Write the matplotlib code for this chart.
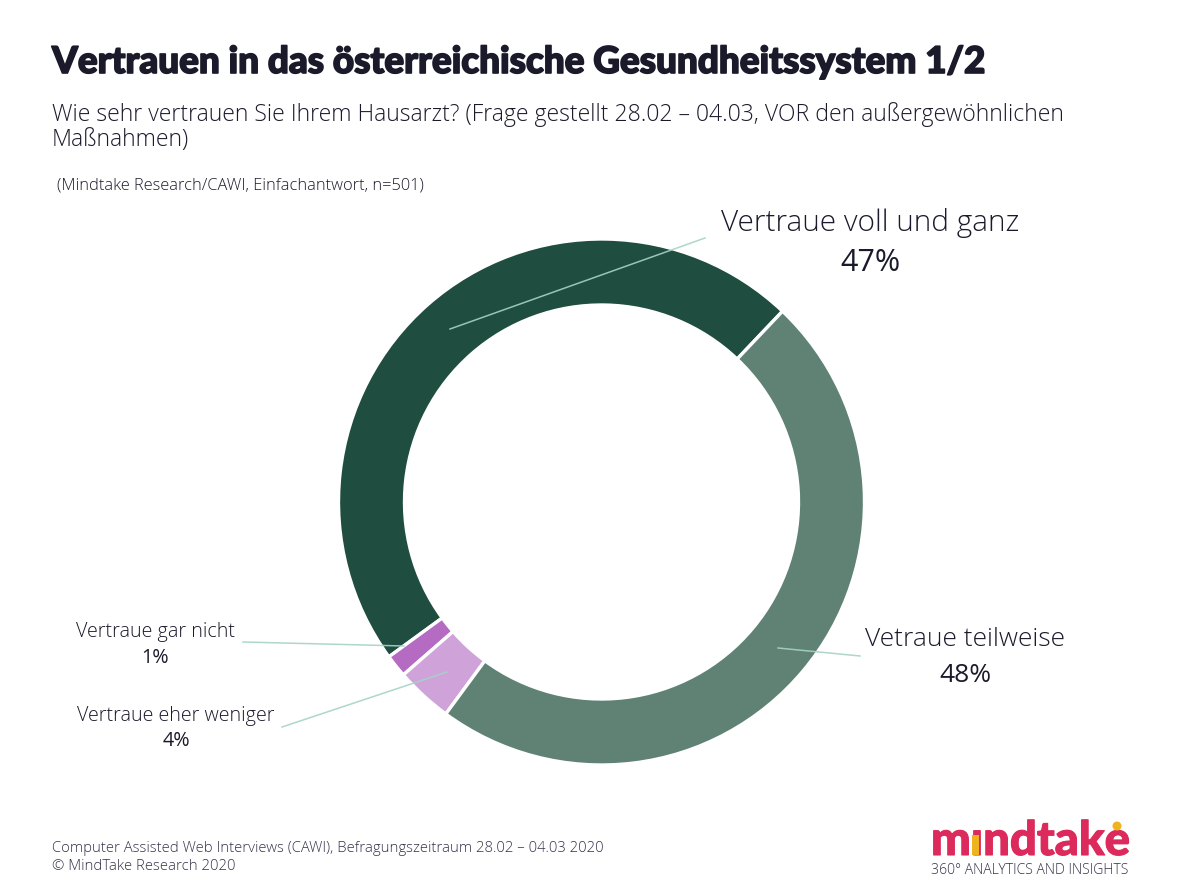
import matplotlib
matplotlib.use("Agg")
import matplotlib.pyplot as plt
import matplotlib.patheffects as pe
from matplotlib.patches import Rectangle, Circle

categories = ["Vertraue voll und ganz", "Vertraue gar nicht", "Vertraue eher weniger", "Vetraue teilweise"]
shares = [47.1, 1.4, 3.5, 48.0]
shown = ["47%", "1%", "4%", "48%"]
colors = ["#1f4d3f", "#b46bc1", "#cfa2da", "#5f8274"]

W, H = 1181, 886
INK = "#1b1a2b"
plt.rcParams["font.family"] = ["Open Sans", "DejaVu Sans"]

fig = plt.figure(figsize=(W / 100, H / 100), dpi=100, facecolor="white")
ax = fig.add_axes([0, 0, 1, 1])
ax.set_xlim(0, W)
ax.set_ylim(0, H)
ax.axis("off")

def Y(y):
    return H - y

ax.pie(shares, colors=colors, startangle=46.5, counterclock=True,
       center=(601.5, Y(502)), radius=263, frame=False,
       wedgeprops=dict(width=66, edgecolor="white", linewidth=2.4))
ax.set_xlim(0, W)
ax.set_ylim(0, H)
ax.set_aspect("auto")

# leader lines
leaders = [((450, 329), (705, 238)), ((778, 648), (860, 656)),
           ((404, 646), (243, 642)), ((447, 672), (282, 727))]
for a, b in leaders:
    ax.plot([a[0], b[0]], [Y(a[1]), Y(b[1])], color="#a5d3c5", lw=1.1, alpha=0.9, zorder=5)

# headings
ax.text(52, Y(62), "Vertrauen in das österreichische Gesundheitssystem 1/2", fontsize=26.55,
        family=["Lato", "DejaVu Sans"], fontweight="black", color=INK, va="center", ha="left",
        path_effects=[pe.withStroke(linewidth=1.2, foreground=INK)])
ax.text(52, Y(115), "Wie sehr vertrauen Sie Ihrem Hausarzt? (Frage gestellt 28.02 – 04.03, VOR den außergewöhnlichen",
        fontsize=16.6, color=INK, va="center", ha="left", fontweight="light")
ax.text(52, Y(140), "Maßnahmen)", fontsize=16.6, color=INK, va="center", ha="left", fontweight="light")
ax.text(57, Y(185), "(Mindtake Research/CAWI, Einfachantwort, n=501)", fontsize=11.8, color=INK,
        va="center", ha="left", fontweight="light")

# slice labels
label_spots = [(870, 223, 21.4, 263, 22), (155, 632, 14.2, 658, 14.2),
               (176, 716, 14.2, 741, 14.2), (965, 640, 19, 676, 19)]
for name, val, (x, y1, s1, y2, s2) in zip(categories, shown, label_spots):
    ax.text(x, Y(y1), name, fontsize=s1, color=INK, ha="center", va="center", fontweight="light")
    ax.text(x, Y(y2), val, fontsize=s2, color=INK, ha="center", va="center")

# footer
ax.text(52, Y(848), "Computer Assisted Web Interviews (CAWI), Befragungszeitraum 28.02 – 04.03 2020",
        fontsize=10.7, color="#33334a", va="center", ha="left", fontweight="light")
ax.text(52, Y(866), "© MindTake Research 2020", fontsize=10.7, color="#33334a", va="center", ha="left",
        fontweight="light")

# logo
ax.text(931, Y(855), "mındtake", fontsize=34, color="#dc2a5c", family=["Lato", "DejaVu Sans"],
        fontweight="black", va="baseline", ha="left",
        path_effects=[pe.withStroke(linewidth=0.8, foreground="#dc2a5c")])
ax.add_patch(Rectangle((972, Y(855)), 7, 20, color="#efb320", zorder=6, lw=0))
ax.add_patch(Circle((1117, Y(826)), 4.5, color="#efb320", zorder=6, lw=0))
ax.text(931, Y(870), "360° ANALYTICS AND INSIGHTS", fontsize=10.1, color="#33334a", va="center", ha="left",
        fontweight="light")

fig.savefig("out.png", dpi=100, facecolor="white")
